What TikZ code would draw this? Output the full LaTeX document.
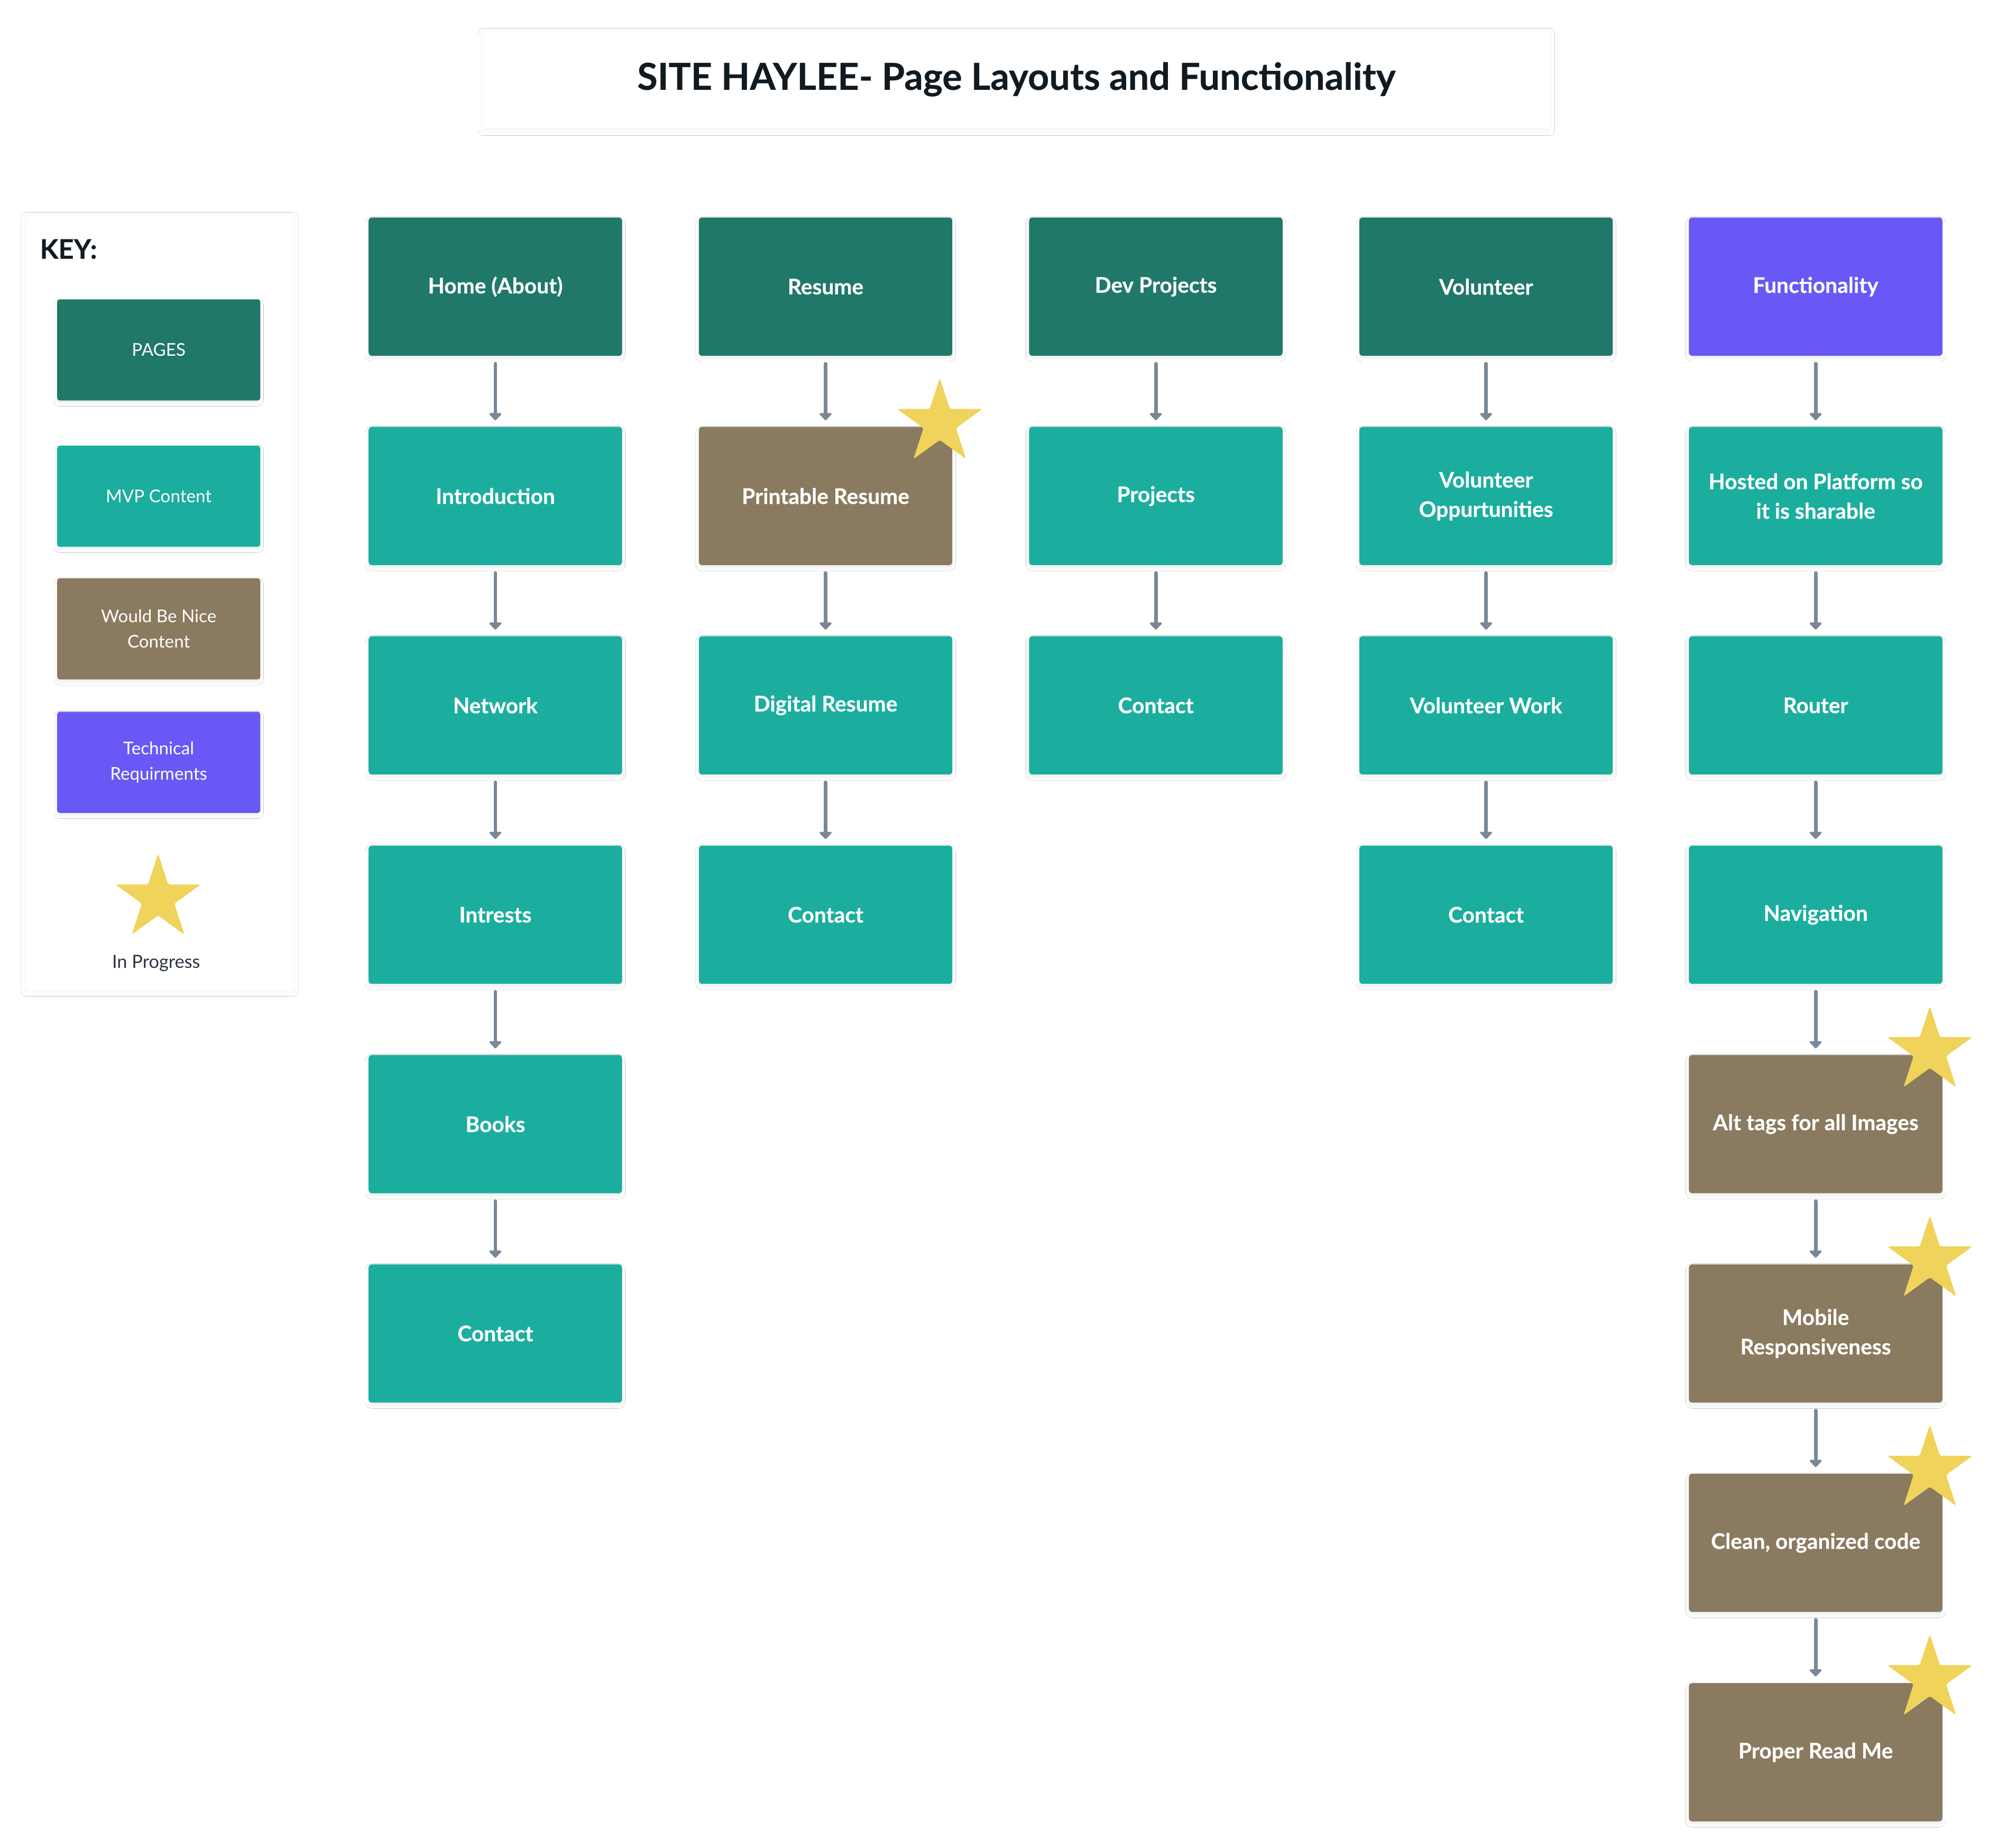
\documentclass[tikz,border=0pt]{standalone}
\usepackage{fontspec}
\setmainfont{Lato}[BoldFeatures={FakeBold=0.35}]
\usetikzlibrary{arrows.meta,calc,shadows.blur,shapes.geometric}
\definecolor{pagec}{HTML}{207869}
\definecolor{mvpc}{HTML}{1BAE9F}
\definecolor{nicec}{HTML}{8A7A5F}
\definecolor{techc}{HTML}{6858F5}
\definecolor{arrc}{HTML}{788896}
\definecolor{starc}{HTML}{EFD35A}
\definecolor{ink}{HTML}{121A21}
\definecolor{keyink}{HTML}{2B3440}
\begin{document}
\begin{tikzpicture}[x=1pt,y=-1pt,
  softshadow/.style={blur shadow={shadow xshift=0pt,shadow yshift=-2pt,shadow blur radius=2.5pt,shadow opacity=7,shadow blur steps=6}},
  box/.style={rectangle,rounded corners=2.5pt,minimum width=198pt,minimum height=108pt,inner sep=0pt,
    text=white,align=center,font=\bfseries\fontsize{16.8}{23}\selectfont,softshadow},
  pagebox/.style={box,fill=pagec},
  mvpbox/.style={box,fill=mvpc},
  nicebox/.style={box,fill=nicec},
  techbox/.style={box,fill=techc},
  keybox/.style={rectangle,rounded corners=2pt,minimum width=158.7pt,minimum height=79pt,inner sep=0pt,
    text=white,align=center,font=\fontsize{13.7}{20}\selectfont,softshadow},
  conn/.style={draw=arrc,line width=2.8pt,line cap=round,-{Triangle[width=11pt,length=6pt,round]},shorten <=6pt,shorten >=5pt},
  starmark/.style={star,star points=5,star point ratio=2.618,minimum size=70pt,inner sep=0pt,fill=starc,rounded corners=1.5pt}
]
\fill[white] (0,0) rectangle (1568,1444);
\useasboundingbox (0,0) rectangle (1568,1444);

% title
\node[rectangle,fill=white,minimum width=833pt,minimum height=76pt,inner sep=0pt,
  blur shadow={shadow xshift=0pt,shadow yshift=-2pt,shadow blur radius=4pt,shadow opacity=4,shadow blur steps=6},
  text=ink,font=\bfseries\fontsize{29}{32}\selectfont] (title) at (794,62) {SITE HAYLEE- Page Layouts and Functionality};

% key panel
\node[rectangle,fill=white,minimum width=208.5pt,minimum height=604.6pt,inner sep=0pt,
  blur shadow={shadow xshift=0pt,shadow yshift=-1pt,shadow blur radius=4pt,shadow opacity=4,shadow blur steps=6}] (keypanel) at (124.75,471.2) {};
\node[anchor=west,inner sep=0pt,text=ink,font=\bfseries\fontsize{21}{24}\selectfont] (keytitle) at (31,194.6) {KEY:};
\node[keybox,fill=pagec] (kpages) at (124,273.4) {PAGES};
\node[keybox,fill=mvpc] (kmvp) at (124,387.8) {MVP Content};
\node[keybox,fill=nicec] (knice) at (124,491.4) {Would Be Nice\\Content};
\node[keybox,fill=techc] (ktech) at (124,595.7) {Technical\\Requirments};
\node[starmark] (kstar) at (123.5,702) {};
\node[text=keyink,inner sep=0pt,font=\fontsize{14.2}{16}\selectfont] (kprog) at (122,752.6) {In Progress};

% column 1
\node[pagebox] (a0) at (387,224) {Home (About)};
\node[mvpbox] (a1) at (387,387.6) {Introduction};
\node[mvpbox] (a2) at (387,551.2) {Network};
\node[mvpbox] (a3) at (387,714.8) {Intrests};
\node[mvpbox] (a4) at (387,878.4) {Books};
\node[mvpbox] (a5) at (387,1042) {Contact};
\draw[conn] (a0) -- (a1);
\draw[conn] (a1) -- (a2);
\draw[conn] (a2) -- (a3);
\draw[conn] (a3) -- (a4);
\draw[conn] (a4) -- (a5);

% column 2
\node[pagebox] (b0) at (645,224) {Resume};
\node[nicebox] (b1) at (645,387.6) {Printable Resume};
\node[mvpbox] (b2) at (645,551.2) {Digital Resume};
\node[mvpbox] (b3) at (645,714.8) {Contact};
\draw[conn] (b0) -- (b1);
\draw[conn] (b1) -- (b2);
\draw[conn] (b2) -- (b3);

% column 3
\node[pagebox] (c0) at (903,224) {Dev Projects};
\node[mvpbox] (c1) at (903,387.6) {Projects};
\node[mvpbox] (c2) at (903,551.2) {Contact};
\draw[conn] (c0) -- (c1);
\draw[conn] (c1) -- (c2);

% column 4
\node[pagebox] (d0) at (1161,224) {Volunteer};
\node[mvpbox] (d1) at (1161,387.6) {Volunteer\\Oppurtunities};
\node[mvpbox] (d2) at (1161,551.2) {Volunteer Work};
\node[mvpbox] (d3) at (1161,714.8) {Contact};
\draw[conn] (d0) -- (d1);
\draw[conn] (d1) -- (d2);
\draw[conn] (d2) -- (d3);

% column 5
\node[techbox] (e0) at (1418.5,224) {Functionality};
\node[mvpbox] (e1) at (1418.5,387.6) {Hosted on Platform so\\it is sharable};
\node[mvpbox] (e2) at (1418.5,551.2) {Router};
\node[mvpbox] (e3) at (1418.5,714.8) {Navigation};
\node[nicebox] (e4) at (1418.5,878.4) {Alt tags for all Images};
\node[nicebox] (e5) at (1418.5,1042) {Mobile\\Responsiveness};
\node[nicebox] (e6) at (1418.5,1205.6) {Clean, organized code};
\node[nicebox] (e7) at (1418.5,1369.2) {Proper Read Me};
\draw[conn] (e0) -- (e1);
\draw[conn] (e1) -- (e2);
\draw[conn] (e2) -- (e3);
\draw[conn] (e3) -- (e4);
\draw[conn] (e4) -- (e5);
\draw[conn] (e5) -- (e6);
\draw[conn] (e6) -- (e7);

% stars
\node[starmark] (s1) at ($(b1.north east)+(-10,-3)$) {};
\node[starmark] (s2) at ($(e4.north east)+(-10,-3)$) {};
\node[starmark] (s3) at ($(e5.north east)+(-10,-3)$) {};
\node[starmark] (s4) at ($(e6.north east)+(-10,-3)$) {};
\node[starmark] (s5) at ($(e7.north east)+(-10,-3)$) {};
\end{tikzpicture}
\end{document}
